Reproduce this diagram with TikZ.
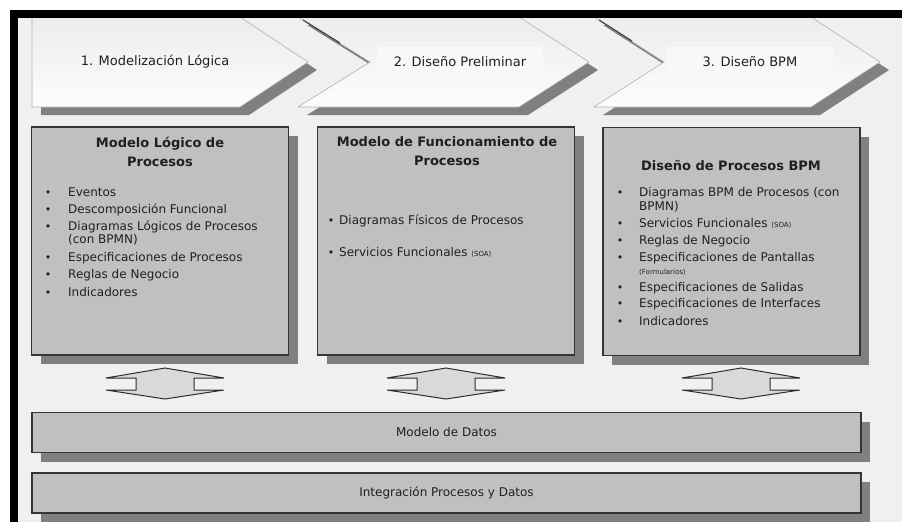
\documentclass[tikz,border=0pt]{standalone}
\usepackage{fontspec}
\setmainfont{DejaVu Sans}
\usetikzlibrary{shadows}

\definecolor{bggray}{HTML}{F0F0F0}
\definecolor{boxgray}{HTML}{C0C0C0}
\definecolor{shadowgray}{HTML}{808080}
\definecolor{edgegray}{HTML}{353535}
\definecolor{arrowgray}{HTML}{D9D9D9}
\definecolor{chevtop}{HTML}{ECECEC}
\definecolor{chevbot}{HTML}{FDFDFD}
\definecolor{chevlabel}{HTML}{F8F8F8}
\definecolor{inkgray}{HTML}{202020}

\tikzset{
  chevshadow/.style={fill=shadowgray, draw=none},
  chevron/.style={top color=chevtop, bottom color=chevbot, draw=gray!60, line width=0.6pt},
  notchedge/.style={draw=gray!45!black, line width=1.1pt},
  chevtext/.style={fill=chevlabel, minimum width=166pt, minimum height=30pt, inner sep=0pt,
    font=\fontsize{13}{15}\selectfont, text=inkgray},
  procbox/.style={fill=boxgray, draw=edgegray, line width=1.4pt, minimum width=257pt,
    minimum height=228pt, inner sep=0pt,
    drop shadow={shadow xshift=9pt, shadow yshift=-9pt, opacity=1, fill=shadowgray}},
  barbox/.style={fill=boxgray, draw=edgegray, line width=1.4pt, minimum width=829pt,
    minimum height=40pt, inner sep=0pt, font=\fontsize{12}{14}\selectfont, text=inkgray,
    drop shadow={shadow xshift=9pt, shadow yshift=-9pt, opacity=1, fill=shadowgray}},
  boxtitle/.style={align=center, font=\bfseries\fontsize{13}{19}\selectfont, text=inkgray, inner sep=0pt},
  itemtext/.style={anchor=base west, inner sep=0pt, font=\fontsize{12}{13}\selectfont, text=inkgray},
  smalltext/.style={anchor=base west, inner sep=0pt, font=\fontsize{7}{8}\selectfont, text=inkgray},
  dot/.style={anchor=base, inner sep=0pt, font=\fontsize{11}{11}\selectfont, text=inkgray},
  blockarrow/.style={fill=arrowgray, draw=gray!35!black, line width=1pt, line join=miter},
}

% vertical double block arrow centred on x = #1
\newcommand{\vdblarrow}[1]{%
  \filldraw[blockarrow] (#1,368) -- (#1+59,378) -- (#1+29,378) -- (#1+29,390)
    -- (#1+59,390) -- (#1,399) -- (#1-59,390) -- (#1-29,390) -- (#1-29,378)
    -- (#1-59,378) -- cycle;}

\begin{document}
\begin{tikzpicture}[x=1pt,y=-1pt]
\useasboundingbox (0,0) rectangle (902,522);
\fill[white] (0,0) rectangle (902,522);
\fill[bggray] (18,18) rectangle (902,522);

% phase chevrons
\fill[chevshadow, shift={(9,8)}] (32,17) -- (240,17) -- (308,62) -- (240,107) -- (32,107) -- cycle;
\path[chevron] (32,17) -- (240,17) -- (308,62) -- (240,107) -- (32,107) -- cycle;
\fill[chevshadow, shift={(9,8)}] (298,17) -- (519,17) -- (589,62) -- (519,107) -- (298,107) -- (370,62) -- cycle;
\path[chevron] (298,17) -- (519,17) -- (589,62) -- (519,107) -- (298,107) -- (370,62) -- cycle;
\draw[notchedge] (303,20) -- (340,43);
\fill[chevshadow, shift={(9,8)}] (594,17) -- (811,17) -- (880,62) -- (811,107) -- (594,107) -- (664,62) -- cycle;
\path[chevron] (594,17) -- (811,17) -- (880,62) -- (811,107) -- (594,107) -- (664,62) -- cycle;
\draw[notchedge] (599,20) -- (632,41);

\node[chevtext, fill=none] (p1) at (155,62) {1. Modelización Lógica};
\node[chevtext] (p2) at (460,62) {2. Diseño Preliminar};
\node[chevtext] (p3) at (750,62) {3. Diseño BPM};

% process boxes
\node[procbox] (b1) at (160,241) {};
\node[procbox] (b2) at (446,241) {};
\node[procbox] (b3) at (731.5,241.5) {};

\node[boxtitle] (t1) at (160,152) {Modelo Lógico de\\Procesos};
\node[boxtitle] (t2) at (447,151) {Modelo de Funcionamiento de\\Procesos};
\node[boxtitle] (t3) at (731,166) {Diseño de Procesos BPM};

% box 1 items
\node[dot] (d11) at (48,196) {•};
\node[itemtext] (i11) at (68,196) {Eventos};
\node[dot] (d12) at (48,213) {•};
\node[itemtext] (i12) at (68,213) {Descomposición Funcional};
\node[dot] (d13) at (48,230) {•};
\node[itemtext] (i13) at (68,230) {Diagramas Lógicos de Procesos};
\node[itemtext] (i13b) at (68,243) {(con BPMN)};
\node[dot] (d14) at (48,261) {•};
\node[itemtext] (i14) at (68,261) {Especificaciones de Procesos};
\node[dot] (d15) at (48,278) {•};
\node[itemtext] (i15) at (68,278) {Reglas de Negocio};
\node[dot] (d16) at (48,296) {•};
\node[itemtext] (i16) at (68,296) {Indicadores};

% box 2 items
\node[dot] (d21) at (331,224) {•};
\node[itemtext] (i21) at (339,224) {Diagramas Físicos de Procesos};
\node[dot] (d22) at (331,256) {•};
\node[itemtext] (i22) at (339,256) {Servicios Funcionales {\fontsize{7}{8}\selectfont (SOA)}};

% box 3 items
\node[dot] (d31) at (620,196) {•};
\node[itemtext] (i31) at (639,196) {Diagramas BPM de Procesos (con};
\node[itemtext] (i31b) at (639,210) {BPMN)};
\node[dot] (d32) at (620,227) {•};
\node[itemtext] (i32) at (639,227) {Servicios Funcionales {\fontsize{7}{8}\selectfont (SOA)}};
\node[dot] (d33) at (620,244) {•};
\node[itemtext] (i33) at (639,244) {Reglas de Negocio};
\node[dot] (d34) at (620,261) {•};
\node[itemtext] (i34) at (639,261) {Especificaciones de Pantallas};
\node[smalltext] (i34b) at (639,274) {(Formularios)};
\node[dot] (d35) at (620,291) {•};
\node[itemtext] (i35) at (639,291) {Especificaciones de Salidas};
\node[dot] (d36) at (620,307) {•};
\node[itemtext] (i36) at (639,307) {Especificaciones de Interfaces};
\node[dot] (d37) at (620,325) {•};
\node[itemtext] (i37) at (639,325) {Indicadores};

% exchange arrows
\vdblarrow{165}
\vdblarrow{446}
\vdblarrow{741}

% data layers
\node[barbox] (datos) at (446.5,432.5) {Modelo de Datos};
\node[barbox] (integ) at (446.5,493) {Integración Procesos y Datos};

% frame
\fill[black] (10,10) rectangle (902,18);
\fill[black] (10,10) rectangle (18,522);
\end{tikzpicture}
\end{document}
